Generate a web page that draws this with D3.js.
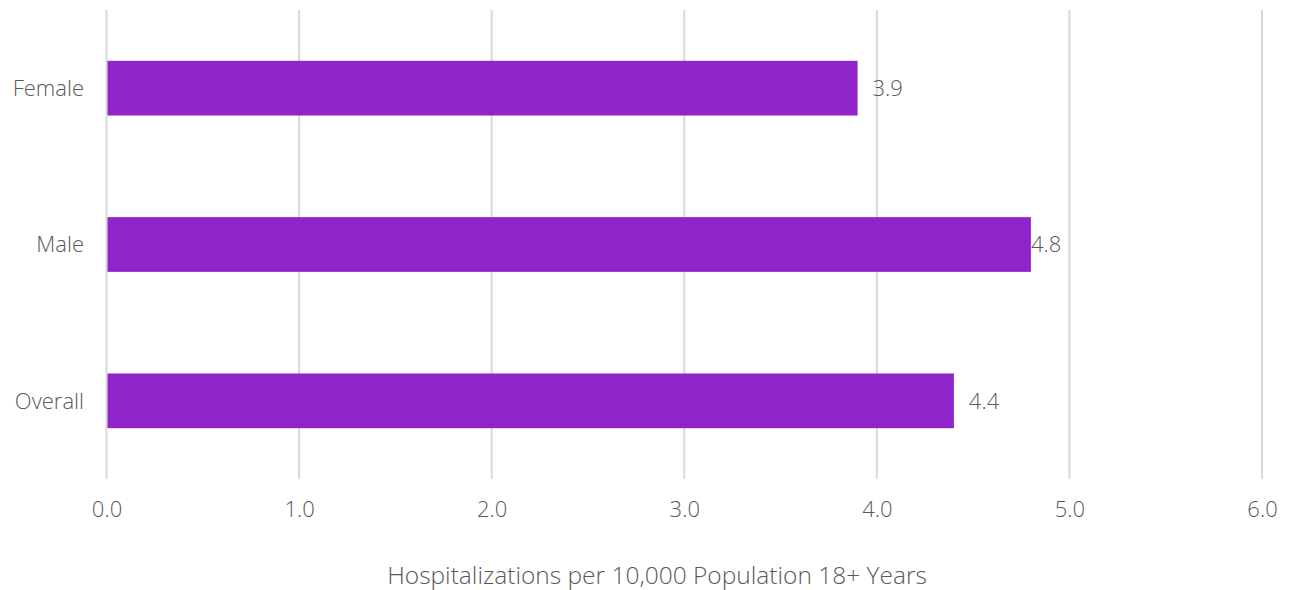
<!DOCTYPE html>
<html><head><meta charset="utf-8">
<script src="https://cdn.jsdelivr.net/npm/d3@7"></script>
<style>
body{margin:0;background:#fff;}
text{font-family:"Open Sans",Lato,sans-serif;font-weight:300;fill:#595959;}
</style></head>
<body><svg id="c" width="1289" height="590"></svg>
<script>
const categories = ["Female","Male","Overall"];
const values = [3.9,4.8,4.4];
const tickValues = [0,1,2,3,4,5,6];
const axisTitle = "Hospitalizations per 10,000 Population 18+ Years";

const svg = d3.select("#c");
const x = d3.scaleLinear().domain([0,6]).range([106.5,1262]);
const y = d3.scaleBand().domain(categories).range([10,479]).paddingInner(0.65).paddingOuter(0.325);

// gridlines
svg.append("g").selectAll("line").data(tickValues).join("line")
  .attr("x1",d=>x(d)).attr("x2",d=>x(d)).attr("y1",10).attr("y2",479)
  .attr("stroke","#d9d9d9").attr("stroke-width",2);

// bars
svg.append("g").selectAll("rect").data(categories).join("rect")
  .attr("x",x(0)+1).attr("y",d=>y(d)).attr("width",(d,i)=>x(values[i])-x(0)-1)
  .attr("height",y.bandwidth()).attr("fill","#8e24c9");

// value labels
svg.append("g").selectAll("text").data(categories).join("text")
  .attr("x",(d,i)=>x(values[i])+ (values[i]===4.8?0:15)).attr("y",d=>y(d)+y.bandwidth()/2)
  .attr("dy","0.35em").attr("font-size",22).text((d,i)=>values[i].toFixed(1));

// category labels
svg.append("g").selectAll("text").data(categories).join("text")
  .attr("x",84).attr("y",d=>y(d)+y.bandwidth()/2).attr("dy","0.35em")
  .attr("text-anchor","end").attr("font-size",22).text(d=>d);

// x axis tick labels
const ax = svg.append("g").attr("transform","translate(0,498)")
  .call(d3.axisBottom(x).tickValues(tickValues).tickFormat(d3.format(".1f")).tickSize(0));
ax.select(".domain").remove();
ax.selectAll("text").attr("font-size",22).attr("dy","0.71em").style("font-family","'Open Sans',Lato,sans-serif").style("font-weight",300).attr("fill","#595959");

svg.append("text").attr("x",657).attr("y",584).attr("text-anchor","middle")
  .attr("font-size",24.5).text(axisTitle);
</script></body></html>
